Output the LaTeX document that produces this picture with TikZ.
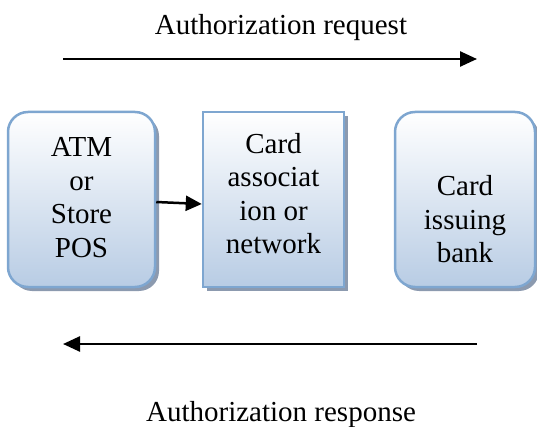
\documentclass[tikz,border=0pt]{standalone}
\usepackage{fontspec}
\setmainfont{Liberation Serif}
\usetikzlibrary{arrows.meta,shadows}
\definecolor{boxline}{RGB}{126,166,208}
\definecolor{boxbot}{RGB}{184,204,228}
\definecolor{shadowc}{RGB}{140,154,175}
\tikzset{
  box/.style={draw=boxline, line width=2.5pt, top color=white, bottom color=boxbot,
    minimum height=175pt, inner sep=0pt,
    drop shadow={shadow xshift=4pt, shadow yshift=-4pt, fill=shadowc, opacity=1}},
  rbox/.style={box, rounded corners=20pt},
  txt/.style={align=center, font=\fontsize{29}{33.5}\selectfont, inner sep=0pt},
  lbl/.style={font=\fontsize{29}{34}\selectfont, inner sep=0pt, anchor=base},
  bigarrow/.style={line width=2.5pt, -{Triangle[length=17pt,width=15pt]}},
  smallarrow/.style={line width=2.5pt, -{Triangle[length=16pt,width=15pt]}}
}
\begin{document}
\begin{tikzpicture}[x=1pt,y=-1pt]
\useasboundingbox (0,0) rectangle (537,427);
\node[rbox, minimum width=147pt] (b1) at (81.5,199.5) {};
\node[box, minimum width=141pt] (b2) at (273.5,199.5) {};
\node[rbox, minimum width=140pt] (b3) at (465,199.5) {};
\node[txt] (t1) at ([yshift=2pt]b1.center) {ATM\\or\\Store\\POS};
\node[txt] (t2) at ([yshift=6pt]b2.center) {Card\\associat\\ion or\\network};
\node[txt] (t3) at ([yshift=-20pt]b3.center) {Card\\issuing\\bank};
\node[lbl] (lt) at (281,35) {Authorization request};
\node[lbl] (lb) at (281,421.5) {Authorization response};
\coordinate (a1s) at (63,59);
\coordinate (a1e) at (477,59);
\coordinate (a2s) at (477,344);
\coordinate (a2e) at (63,344);
\draw[bigarrow] (a1s) -- (a1e);
\draw[bigarrow] (a2s) -- (a2e);
\draw[smallarrow] ([yshift=-2.5pt]b1.east) -- ([yshift=-4.5pt]b2.west);
\end{tikzpicture}
\end{document}
